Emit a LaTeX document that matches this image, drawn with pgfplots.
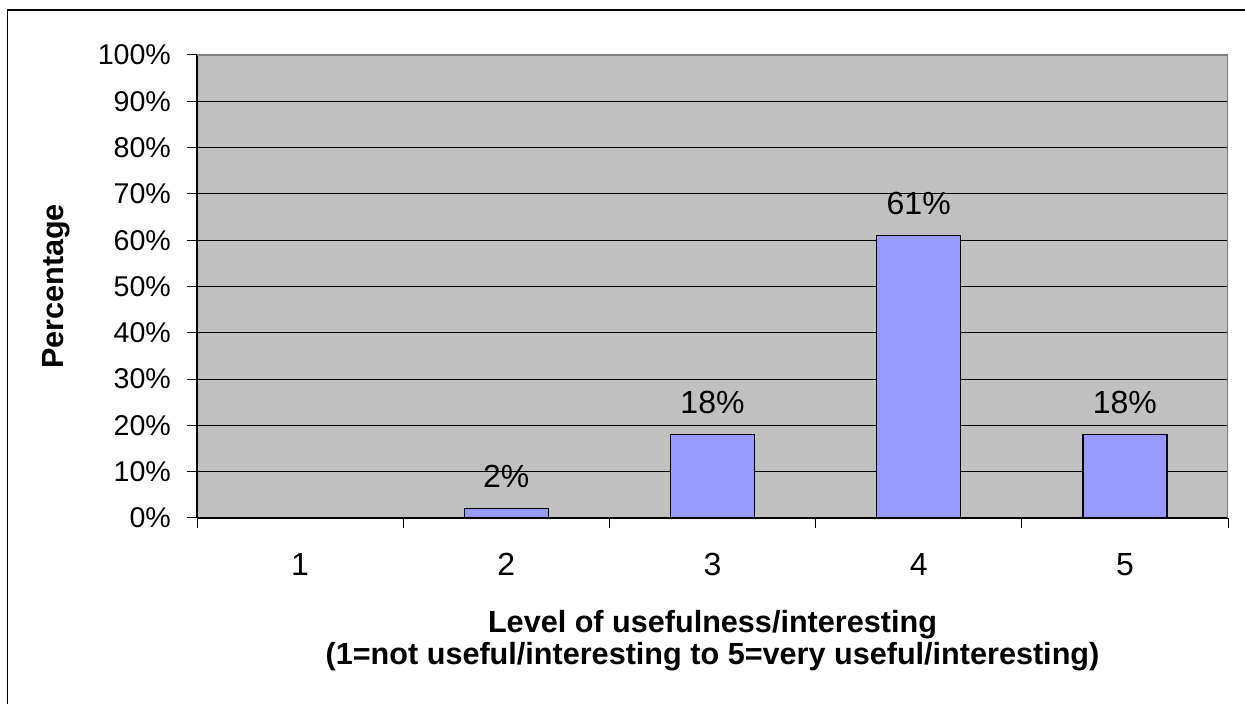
\documentclass[border=0pt]{standalone}
\usepackage{pgfplots}
\pgfplotsset{compat=1.18}
\usepackage{fontspec}
\setmainfont{Liberation Sans}
\definecolor{plotgray}{HTML}{C0C0C0}
\definecolor{framegray}{HTML}{808080}
\definecolor{barblue}{HTML}{9999FF}
\begin{document}
\begin{tikzpicture}
\path[use as bounding box] (0,0) rectangle (622.5pt,352pt);
\draw[line width=0.8pt] (3.75pt,0) -- (3.75pt,347pt) -- (622.5pt,347pt);
\begin{axis}[
  at={(98.5pt,93pt)}, anchor=south west,
  width=515.5pt, height=231.5pt, scale only axis,
  xmin=0.5, xmax=5.5, ymin=0, ymax=100,
  axis background/.style={fill=plotgray},
  axis x line*=bottom, axis y line*=left,
  axis line style={black, line width=0.6pt},
  xtick={0.5,1.5,...,5.5},
  xticklabels={1,2,3,4,5},
  x tick label as interval,
  ytick={0,10,...,100},
  yticklabel={\pgfmathprintnumber{\tick}\%},
  /pgf/number format/assume math mode=true,
  tick align=outside,
  major tick length=5pt,
  tick style={black, line width=0.5pt},
  ymajorgrids,
  grid style={black, line width=0.5pt},
  xticklabel style={font=\fontsize{16}{19}\selectfont, yshift=-9pt},
  yticklabel style={font=\fontsize{14.3}{17}\selectfont, xshift=-4.5pt},
  xlabel={Level of usefulness/interesting\\(1=not useful/interesting to 5=very useful/interesting)},
  xlabel style={font=\bfseries\fontsize{15.3}{16}\selectfont, align=center, yshift=-10.5pt},
  ylabel={Percentage},
  ylabel style={font=\bfseries\fontsize{15.3}{17}\selectfont, yshift=7pt},
]
\addplot[ybar, bar width=42pt, fill=barblue, draw=black, line width=0.6pt,
  nodes near coords={\pgfmathprintnumber{\pgfplotspointmeta}\%},
  every node near coord/.append style={anchor=base, yshift=10.5pt,
    font=\fontsize{16}{19}\selectfont, black}]
  coordinates {(2,2) (3,18) (4,61) (5,18)};
\draw[framegray, line width=0.8pt] (rel axis cs:0,1) -- (rel axis cs:1,1) -- (rel axis cs:1,0);
\end{axis}
\end{tikzpicture}
\end{document}
